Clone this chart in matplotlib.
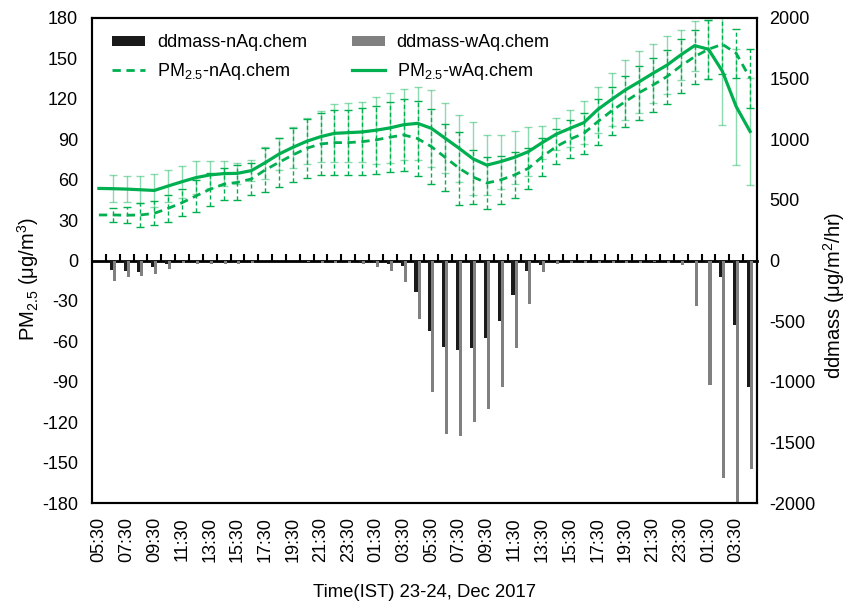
import numpy as np
import matplotlib.pyplot as plt
from matplotlib.lines import Line2D

plt.rcParams['font.family'] = ['Liberation Sans', 'DejaVu Sans']
plt.rcParams['mathtext.fontset'] = 'custom'
plt.rcParams['mathtext.rm'] = 'Liberation Sans'
plt.rcParams['mathtext.it'] = 'Liberation Sans:italic'
plt.rcParams['font.size'] = 13
plt.rcParams['axes.unicode_minus'] = False

# hourly categories, 05:30 23 Dec -> 04:30 25 Dec, labelled every 2 h
tick_labels = ['05:30', '07:30', '09:30', '11:30', '13:30', '15:30', '17:30', '19:30',
               '21:30', '23:30', '01:30', '03:30', '05:30', '07:30', '09:30', '11:30',
               '13:30', '15:30', '17:30', '19:30', '21:30', '23:30', '01:30', '03:30']

pm_wAq = [53.5, 53.3, 53.0, 52.5, 52.0, 55.3, 58.5, 61.5, 63.5, 64.5, 64.7, 66.7,
          72.6, 79.0, 84.0, 88.5, 91.9, 94.4, 94.9, 95.4, 96.7, 98.4, 100.8, 101.8,
          98.1, 90.7, 83.3, 75.5, 70.8, 73.4, 76.6, 80.8, 87.5, 93.7, 98.1, 102.3,
          112.0, 119.5, 126.6, 132.7, 139.0, 145.0, 152.6, 159.5, 156.8, 140.5, 114.2, 95.8]
pm_nAq = [33.8, 33.8, 33.6, 33.8, 35.0, 38.7, 42.9, 47.9, 52.8, 56.6, 58.0, 60.5,
          67.2, 72.9, 78.3, 83.3, 86.5, 87.5, 87.5, 88.2, 89.5, 91.5, 93.2, 90.5,
          84.5, 76.5, 68.5, 62.0, 57.5, 59.8, 63.5, 68.4, 77.0, 84.5, 90.0, 94.4,
          103.0, 111.0, 118.0, 124.6, 130.3, 136.5, 144.4, 151.3, 156.8, 160.5, 153.8, 135.3]
err_wAq = [0, 10, 9.5, 10, 12, 12, 12, 12, 10, 9, 8, 8,
           12, 12, 15, 17, 19, 21.5, 22, 22.5, 25, 26, 26.5, 27,
           28.5, 26, 25, 27, 22, 20, 19.5, 18, 12, 12, 13.5, 16,
           17, 19.5, 22, 23, 22, 21.5, 18.5, 18.5, 22, 40, 43, 40]
err_nAq = [0, 5, 6, 9, 9, 10, 10, 12, 12, 12, 13, 12,
           16, 18, 20, 22, 23, 24, 24, 25, 25, 26, 27, 28,
           28, 25, 27, 20, 19, 18, 17, 15, 14, 13, 14, 15,
           17, 18, 19, 20, 20, 20, 20, 20, 22, 22, 18, 22]
dd_nAq = [0, -78, -86, -95, -56, -25, -8, -5, -5, -5, -5, -5,
          -3, -3, -3, -5, -5, -5, -8, -10, -15, -25, -45, -257,
          -581, -716, -738, -719, -642, -499, -285, -84, -37, -8, -5, -5,
          -5, -5, -5, -5, -5, -5, -5, 0, -15, -136, -532, -1045]
dd_wAq = [0, -166, -139, -128, -114, -73, -20, -25, -25, -25, -25, -20,
          -5, -5, -5, -15, -20, -20, -20, -25, -51, -84, -175, -482,
          -1082, -1431, -1447, -1329, -1227, -1046, -719, -359, -92, -25, -20, -20,
          -20, -20, -20, -20, -15, -20, -37, -375, -1030, -1790, -2010, -1718]

x = np.arange(len(pm_wAq))
green = '#00B050'

fig = plt.figure(figsize=(8.57, 6.1), dpi=100)
ax = fig.add_axes([0.1073, 0.1754, 0.776, 0.7951])
ax2 = ax.twinx()

wid = 0.22
b1 = ax2.bar(x - wid / 2, dd_nAq, width=wid, color='#1a1a1a')
b2 = ax2.bar(x + wid / 2, dd_wAq, width=wid, color='#808080')

e1 = ax.errorbar(x, pm_nAq, yerr=err_nAq, errorevery=(1, 1), color=green, lw=2,
                 ls=(0, (3, 2)), ecolor=green, elinewidth=1, capsize=3, capthick=1)
e1[2][0].set_linestyle((0, (3, 2)))
e2 = ax.errorbar(x, pm_wAq, yerr=err_wAq, errorevery=(1, 1), color=green, lw=2.3,
                 ecolor=(0.0, 0.69, 0.31, 0.45), elinewidth=1, capsize=3, capthick=1)

ax.set_xlim(-0.5, len(x) - 0.5)
ax.set_ylim(-180, 180)
ax.set_yticks(np.arange(-180, 181, 30))
ax2.set_ylim(-2000, 2000)
ax2.set_yticks(np.arange(-2000, 2001, 500))

ax.set_xticks(x[::2])
ax.set_xticklabels(tick_labels, rotation=90)
ax.tick_params(axis='x', length=0, pad=10)
ax.tick_params(axis='y', length=0, pad=10)
ax2.tick_params(axis='y', length=0, pad=9)

for a in (ax, ax2):
    for s in a.spines.values():
        s.set_linewidth(1.5)

# category axis crossing at zero
zero = ax.secondary_xaxis(0.5)
zero.set_xticks(x[:-1] + 0.5)
zero.tick_params(direction='out', length=5, width=1.5, labeltop=False, labelbottom=False)
zero.spines['top'].set_linewidth(2)

ax.set_ylabel('PM$_{2.5}$ (μg/m$^3$)', fontsize=14.5)
ax.yaxis.set_label_coords(-0.076, 0.462)
ax2.set_ylabel('ddmass (μg/m$^2$/hr)', fontsize=14.5)
ax2.yaxis.set_label_coords(1.097, 0.429)
ax.set_xlabel('Time(IST) 23-24, Dec 2017', fontsize=13.3)
ax.xaxis.set_label_coords(0.5, -0.167)

handles = [b1, Line2D([], [], color=green, lw=2, ls=(0, (3, 2))),
           b2, Line2D([], [], color=green, lw=2.3)]
labels = ['ddmass-nAq.chem', 'PM$_{2.5}$-nAq.chem', 'ddmass-wAq.chem', 'PM$_{2.5}$-wAq.chem']
ax2.legend(handles, labels, ncol=2, loc='upper left', bbox_to_anchor=(0.006, 1.0),
           frameon=False, handlelength=1.83, handleheight=0.45, handletextpad=0.67,
           columnspacing=2.45, labelspacing=0.52, borderaxespad=0.5)

fig.savefig('out.png', dpi=100)
